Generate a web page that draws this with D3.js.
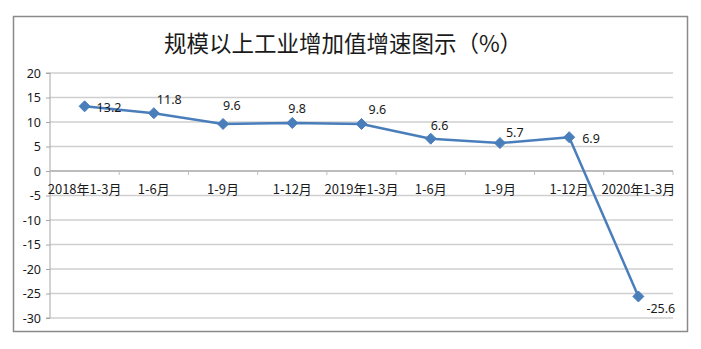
<!DOCTYPE html>
<html>
<head>
<meta charset="utf-8">
<script src="https://cdn.jsdelivr.net/npm/d3@7"></script>
<style>
  html, body { margin: 0; padding: 0; background: #fff; }
  svg { display: block; }
  text { font-family: "Noto Sans CJK SC", "Noto Sans", sans-serif; fill: #1a1a1a; }
</style>
</head>
<body>
<svg id="chart" width="701" height="349"></svg>
<script>
// Periods on the category axis
const categories = ["2018年1-3月", "1-6月", "1-9月", "1-12月", "2019年1-3月", "1-6月", "1-9月", "1-12月", "2020年1-3月"];
// Cumulative growth of industrial value added above designated size (%)
const growth = [13.2, 11.8, 9.6, 9.8, 9.6, 6.6, 5.7, 6.9, -25.6];
// Value axis ticks
const yTicks = [20, 15, 10, 5, 0, -5, -10, -15, -20, -25, -30];
const chartTitle = "规模以上工业增加值增速图示（%）";

// Placement of each value label relative to its marker
const labelOffsets = [
  [12, 1], [3, -14], [0, -18], [-4, -14], [7, -14], [0, -13], [6, -11], [13, 1], [8, 12]
];

// Plain hyphen as the minus sign
const locale = d3.formatLocale({ decimal: ".", thousands: ",", grouping: [3], currency: ["", ""], minus: "-" });
const fmtInt = locale.format("d");
const fmtOne = locale.format(".1f");

const svg = d3.select("#chart");
const plot = { left: 50, right: 673, top: 73, bottom: 318 };

// Outer chart frame
svg.append("rect")
  .attr("x", 13.5).attr("y", 16.5)
  .attr("width", 674).attr("height", 315)
  .attr("fill", "#fff")
  .attr("stroke", "#8a8a8a")
  .attr("stroke-width", 1.5);

svg.append("text")
  .attr("x", 343).attr("y", 42)
  .attr("text-anchor", "middle")
  .attr("dominant-baseline", "central")
  .style("font-size", "22.5px")
  .text(chartTitle);

const x = d3.scaleBand()
  .domain(d3.range(categories.length))
  .range([plot.left, plot.right])
  .paddingInner(0).paddingOuter(0);

const y = d3.scaleLinear()
  .domain([-30, 20])
  .range([plot.bottom, plot.top]);

// Horizontal gridlines
svg.append("g")
  .selectAll("line")
  .data(yTicks.filter(d => d !== 0))
  .join("line")
  .attr("x1", plot.left).attr("x2", plot.right)
  .attr("y1", d => y(d)).attr("y2", d => y(d))
  .attr("stroke", "#cfcfcf")
  .attr("stroke-width", 1.5);

// Value axis
const yAxis = svg.append("g")
  .attr("transform", `translate(${plot.left},0)`)
  .call(d3.axisLeft(y).tickValues(yTicks).tickSize(4).tickPadding(5).tickFormat(fmtInt));
yAxis.select(".domain").attr("stroke", "#a6a6a6").attr("d", `M-4,${plot.top}H0V${plot.bottom}H-4`);
yAxis.selectAll(".tick line").attr("stroke", "#a6a6a6");
yAxis.selectAll(".tick text")
  .style("font-size", "12.5px")
  .attr("fill", "#1a1a1a")
  .style("font-family", "'Noto Sans', sans-serif");

// Category axis along zero
const xAxisY = y(0);
const xg = svg.append("g");
xg.append("line")
  .attr("x1", plot.left).attr("x2", plot.right)
  .attr("y1", xAxisY).attr("y2", xAxisY)
  .attr("stroke", "#bdbdbd")
  .attr("stroke-width", 2);
xg.selectAll("line.tick")
  .data(d3.range(1, categories.length + 1))
  .join("line")
  .attr("class", "tick")
  .attr("x1", i => plot.left + x.step() * i)
  .attr("x2", i => plot.left + x.step() * i)
  .attr("y1", xAxisY).attr("y2", xAxisY + 4)
  .attr("stroke", "#bdbdbd");
xg.selectAll("text")
  .data(categories)
  .join("text")
  .attr("x", (d, i) => x(i) + x.bandwidth() / 2)
  .attr("y", xAxisY + 17)
  .attr("text-anchor", "middle")
  .attr("dominant-baseline", "central")
  .style("font-size", "13px")
  .text(d => d);

// Series line
const cx = i => x(i) + x.bandwidth() / 2;
svg.append("path")
  .datum(growth)
  .attr("fill", "none")
  .attr("stroke", "#4a7ebb")
  .attr("stroke-width", 2.5)
  .attr("stroke-linejoin", "round")
  .attr("d", d3.line().x((d, i) => cx(i)).y(d => y(d)));

// Diamond markers
const r = 5.5;
svg.append("g")
  .selectAll("path")
  .data(growth)
  .join("path")
  .attr("d", (d, i) => `M${cx(i)},${y(d) - r}L${cx(i) + r},${y(d)}L${cx(i)},${y(d) + r}L${cx(i) - r},${y(d)}Z`)
  .attr("fill", "#4a7ebb")
  .attr("stroke", "#4a7ebb")
  .attr("stroke-width", 1);

// Value labels
svg.append("g")
  .selectAll("text")
  .data(growth)
  .join("text")
  .attr("x", (d, i) => cx(i) + labelOffsets[i][0])
  .attr("y", (d, i) => y(d) + labelOffsets[i][1])
  .attr("dominant-baseline", "central")
  .style("font-size", "12.5px")
  .style("font-family", "'Noto Sans', sans-serif")
  .text(d => fmtOne(d));
</script>
</body>
</html>
